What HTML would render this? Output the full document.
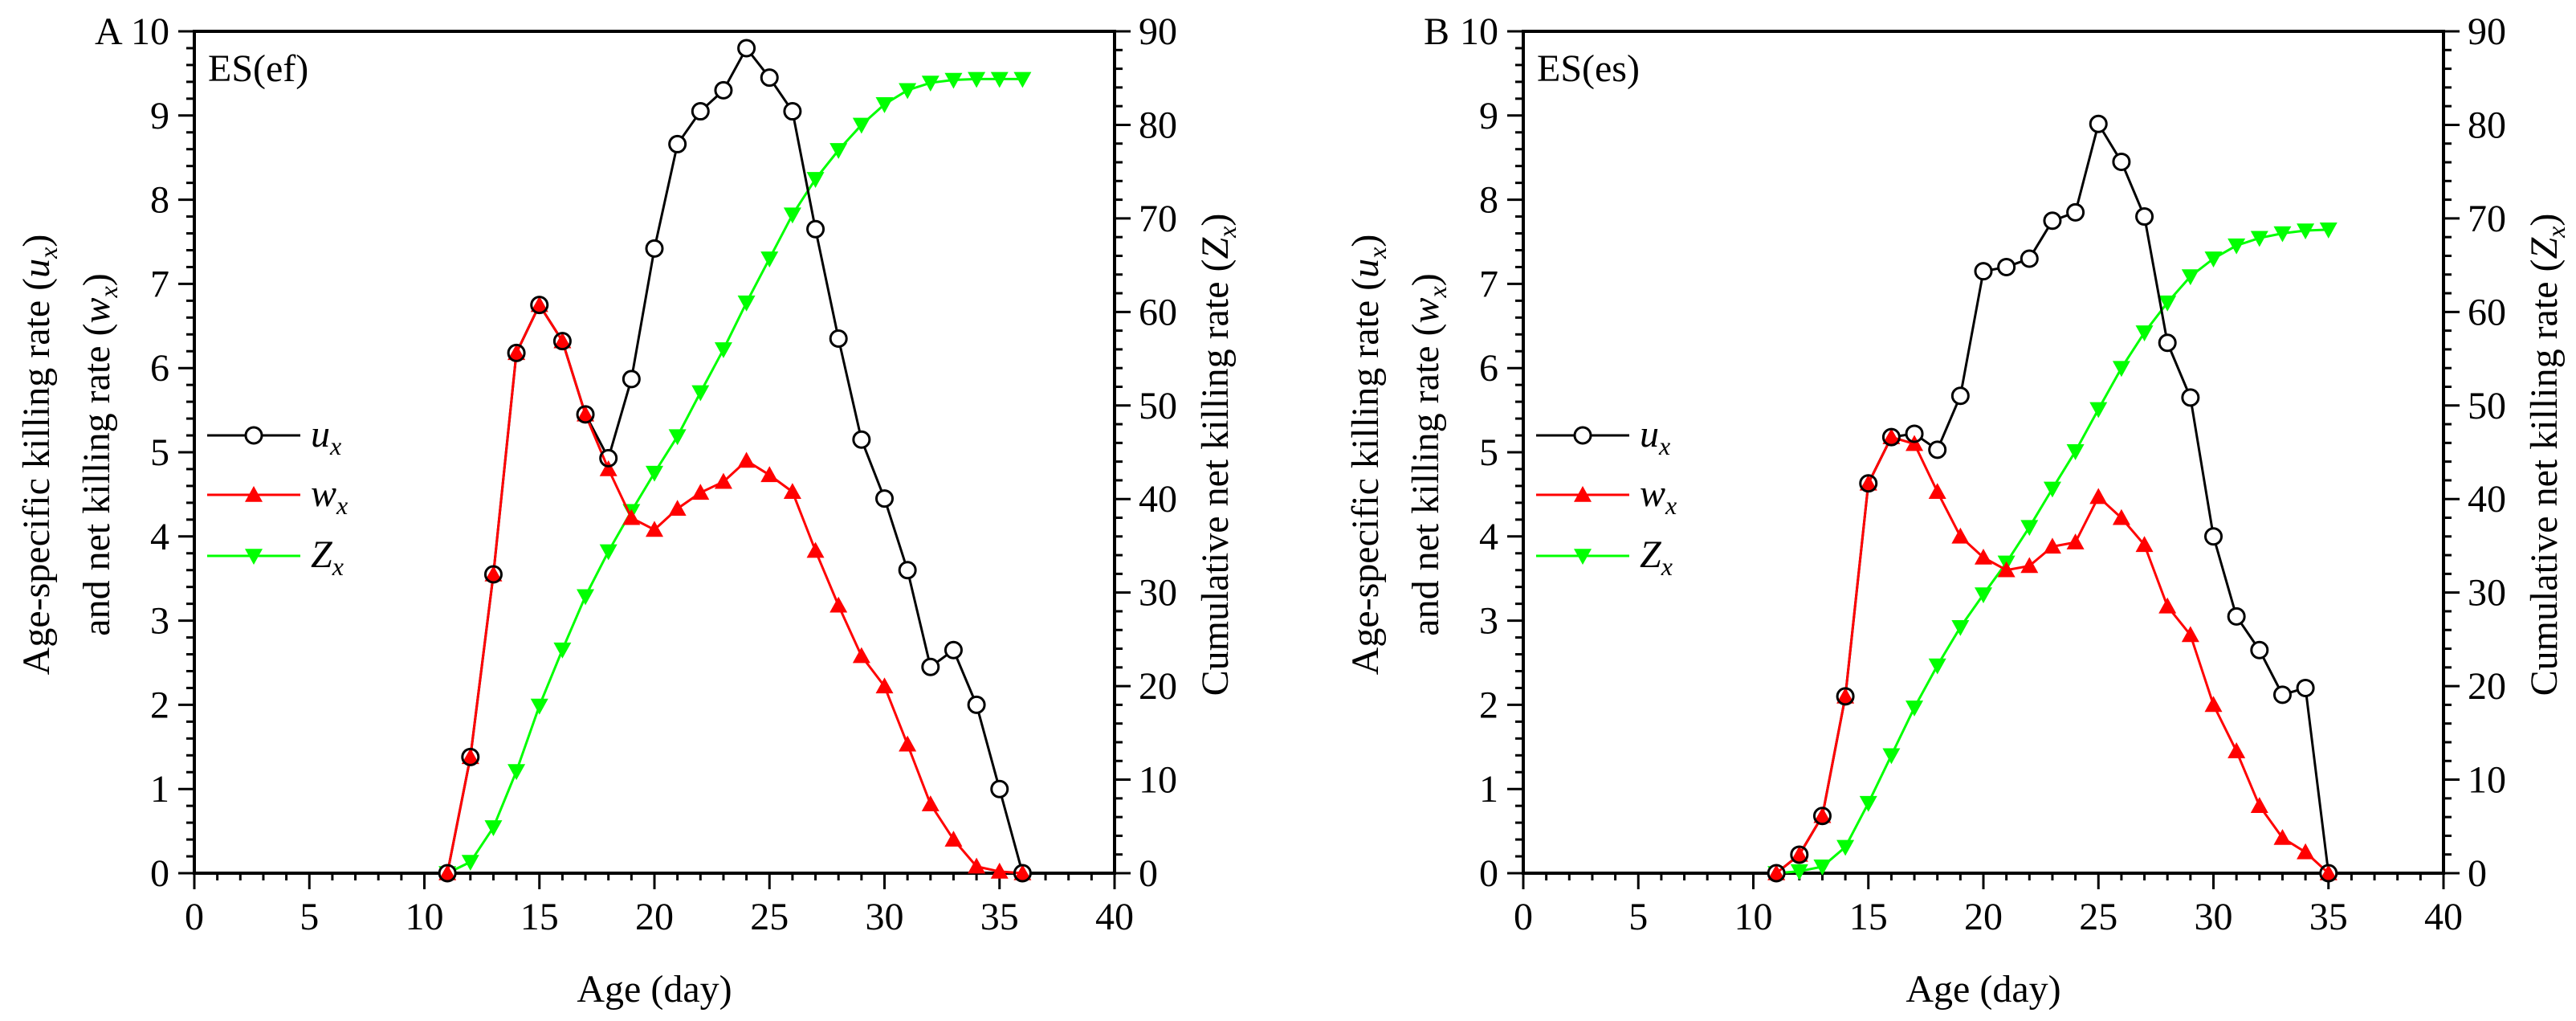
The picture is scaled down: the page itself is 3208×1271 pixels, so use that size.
<!DOCTYPE html>
<html><head><meta charset="utf-8"><style>
html,body{margin:0;padding:0;background:#fff;}
svg{display:block;}
svg text{font-family:"Liberation Serif","Times New Roman",serif;}
</style></head><body>
<svg id="chart" width="3208" height="1271" viewBox="0 0 3208 1271" xmlns="http://www.w3.org/2000/svg" font-family="Liberation Serif, Times New Roman, serif"></svg>
<script>
const days_A=[11,12,13,14,15,16,17,18,19,20,21,22,23,24,25,26,27,28,29,30,31,32,33,34,35,36];
const ux_A=[0,1.38,3.55,6.18,6.75,6.32,5.45,4.93,5.87,7.42,8.66,9.05,9.3,9.8,9.45,9.05,7.65,6.35,5.15,4.45,3.6,2.45,2.65,2.0,1.0,0];
const wx_A=[0,1.38,3.55,6.18,6.75,6.32,5.45,4.8,4.22,4.08,4.33,4.52,4.65,4.9,4.73,4.53,3.83,3.18,2.58,2.22,1.53,0.82,0.4,0.08,0.02,0];
const zx_A=[0,1.2,4.9,10.9,17.9,23.9,29.6,34.4,38.7,42.8,46.7,51.4,56.0,61.0,65.7,70.4,74.2,77.3,80.0,82.2,83.7,84.5,84.8,84.9,84.9,84.9];
const days_B=[11,12,13,14,15,16,17,18,19,20,21,22,23,24,25,26,27,28,29,30,31,32,33,34,35];
const ux_B=[0,0.22,0.68,2.1,4.63,5.18,5.22,5.03,5.67,7.15,7.2,7.3,7.75,7.85,8.9,8.45,7.8,6.3,5.65,4.0,3.05,2.65,2.12,2.2,0];
const wx_B=[0,0.22,0.68,2.1,4.63,5.18,5.1,4.53,4.0,3.75,3.6,3.65,3.88,3.93,4.47,4.22,3.9,3.17,2.83,2.0,1.45,0.8,0.42,0.25,0];
const zx_B=[0,0.2,0.7,2.8,7.5,12.6,17.7,22.2,26.3,29.8,33.2,37.0,41.1,45.1,49.6,54.0,57.8,61.0,63.8,65.7,67.1,67.9,68.4,68.7,68.8];
const xTicks=[0,5,10,15,20,25,30,35,40];
const yLeftTicks=[0,1,2,3,4,5,6,7,8,9,10];
const yRightTicks=[0,10,20,30,40,50,60,70,80,90];

const NS="http://www.w3.org/2000/svg";
const FF="Liberation Serif, Times New Roman, serif";
const svg=document.getElementById('chart');
function mk(tag,attrs,parent,text){const e=document.createElementNS(NS,tag);for(const k in attrs)e.setAttribute(k,attrs[k]);if(tag==='text')e.setAttribute('font-family',FF);if(text!==undefined)e.textContent=text;(parent||svg).appendChild(e);return e;}

function panel(cfg){
  const L=cfg.left,R=cfg.left+1146,T=39,B=1087;
  const g=mk('g',{});
  
  
  const sx=d=>L+(d/40)*(R-L);
  const syL=v=>B-(v/10)*(B-T);
  const syR=v=>B-(v/90)*(B-T);
  const tk=mk('g',{stroke:'#000','stroke-width':3},g);
  
  for(let d=0;d<=40;d++){const x=sx(d);mk('line',{x1:x,x2:x,y1:B,y2:B+(d%5==0?20:9)},tk);}
  for(let i=0;i<=50;i++){const y=syL(i*0.2);mk('line',{x1:L,x2:L-(i%5==0?20:10),y1:y,y2:y},tk);}
  for(let i=0;i<=45;i++){const y=syR(i*2);mk('line',{x1:R,x2:R+(i%5==0?20:10),y1:y,y2:y},tk);}
  const fr=mk('g',{stroke:'#000','stroke-width':4,fill:'none'},g);
  
  mk('line',{x1:L,y1:T,x2:L,y2:B+2},fr);
  mk('line',{x1:L-2,y1:B,x2:R+2,y2:B},fr);
  mk('line',{x1:R,y1:T,x2:R,y2:B+2},fr);
  mk('line',{x1:L-2,y1:T,x2:R+2,y2:T},fr);
  const tl=mk('g',{'font-size':48,fill:'#000'},g);
  
  xTicks.forEach(d=>{const t=mk('text',{x:sx(d),y:1157,'text-anchor':'middle','font-size':48},tl,String(d));
    });
  yLeftTicks.forEach(v=>{const t=mk('text',{x:L-31,y:syL(v)+16,'text-anchor':'end','font-size':48},tl,String(v));
    });
  yRightTicks.forEach(v=>{const t=mk('text',{x:R+30,y:syR(v)+16,'text-anchor':'start','font-size':48},tl,String(v));
    });
  const pl=mk('text',{x:L-124,y:55,'font-size':48},g,cfg.letter);
  
  const tag=mk('text',{x:L+17,y:101,'font-size':48},g,cfg.tag);
  
  const xt=mk('text',{x:(L+R)/2,y:1247,'font-size':48,'text-anchor':'middle'},g,'Age (day)');
  
  const cy=566;
  function vtitle(x,parts,name){
    const t=mk('text',{transform:`translate(${x},${cy}) rotate(-90)`,'font-size':48,'text-anchor':'middle'},g);
    
    parts.forEach(p=>{mk('tspan',p.sub?{'font-style':'italic','font-size':32,dy:10}:(p.it?{'font-style':'italic',dy:p.dy||0}:{dy:p.dy||0}),t,p.t);});
  }
  vtitle(L-181,[{t:'Age-specific killing rate ('},{t:'u',it:1},{t:'x',sub:1},{t:')',dy:-10}],'y-left-title-line1');
  vtitle(L-106,[{t:'and net killing rate ('},{t:'w',it:1},{t:'x',sub:1},{t:')',dy:-10}],'y-left-title-line2');
  vtitle(R+141,[{t:'Cumulative net killing rate ('},{t:'Z',it:1},{t:'x',sub:1},{t:')',dy:-10}],'y-right-title');
  function line(days,vals,sy,color,name){
    const pts=days.map((d,i)=>sx(d)+','+sy(vals[i])).join(' ');
    const p=mk('polyline',{points:pts,fill:'none',stroke:color,'stroke-width':3},g);
    
  }
  function tri(x,y,up,color,parent){
    const s=11;
    const pts=up?`${x},${y-s} ${x+s},${y+s*0.8} ${x-s},${y+s*0.8}`:`${x},${y+s} ${x+s},${y-s*0.8} ${x-s},${y-s*0.8}`;
    return mk('polygon',{points:pts,fill:color},parent);
  }
  line(cfg.days,cfg.zx,syR,'#00ff00','zx');
  cfg.days.forEach((d,i)=>{const p=tri(sx(d),syR(cfg.zx[i]),false,'#00ff00',g);
    });
  line(cfg.days,cfg.ux,syL,'#000','ux');
  cfg.days.forEach((d,i)=>{const c=mk('circle',{cx:sx(d),cy:syL(cfg.ux[i]),r:10,fill:'#fff',stroke:'none'},g);
    });
  line(cfg.days,cfg.wx,syL,'#ff0000','wx');
  cfg.days.forEach((d,i)=>{const p=tri(sx(d),syL(cfg.wx[i]),true,'#ff0000',g);
    });
  cfg.days.forEach((d,i)=>{const c=mk('circle',{cx:sx(d),cy:syL(cfg.ux[i]),r:10,fill:'none',stroke:'#000','stroke-width':3},g);
    });
  const lg=mk('g',{},g);
  
  const items=[['u','#000',542,'c'],['w','#ff0000',616,'u'],['Z','#00ff00',692,'d']];
  items.forEach(it=>{
    const e=mk('g',{},lg);
    
    mk('line',{x1:L+16,x2:L+132,y1:it[2],y2:it[2],stroke:it[1],'stroke-width':3},e);
    if(it[3]=='c')mk('circle',{cx:L+74,cy:it[2],r:10,fill:'#fff',stroke:'#000','stroke-width':3},e);
    else tri(L+74,it[2],it[3]=='u',it[1],e);
    const t=mk('text',{x:L+145,y:it[2]+14,'font-size':48,'font-style':'italic'},e,it[0]);
    mk('tspan',{'font-size':32,dy:10},t,'x');
  });
}
panel({name:'panel-a',left:242,letter:'A',tag:'ES(ef)',days:days_A,ux:ux_A,wx:wx_A,zx:zx_A});
panel({name:'panel-b',left:1897,letter:'B',tag:'ES(es)',days:days_B,ux:ux_B,wx:wx_B,zx:zx_B});
</script>
</body></html>
